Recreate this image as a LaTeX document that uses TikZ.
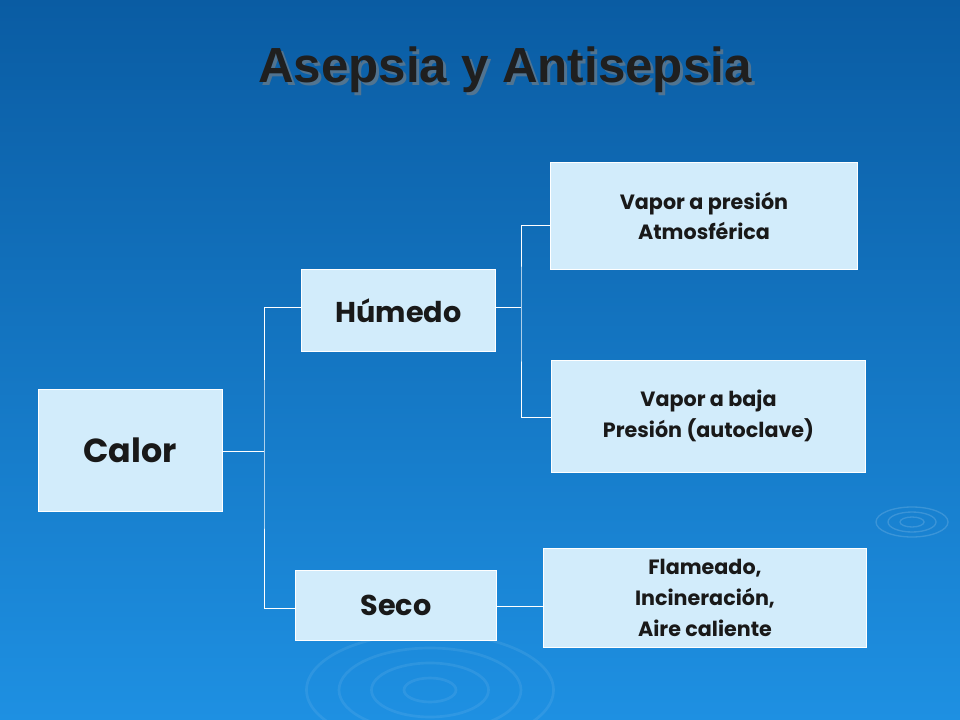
\documentclass[tikz,border=0pt]{standalone}
\usepackage{fontspec}
\setmainfont{Poppins}
\newfontfamily\titlefont{Liberation Sans}
\begin{document}
\begin{tikzpicture}[x=0.75pt,y=-0.75pt,
  box/.style={draw=white,line width=0.6pt,fill=boxc,align=center,text=black!90,font=\bfseries},
  conn/.style={draw=white,line width=0.6pt}]
\definecolor{boxc}{HTML}{D2ECFB}
\definecolor{topc}{HTML}{0A5CA3}
\definecolor{botc}{HTML}{1E90E2}
\shade[top color=topc,bottom color=botc] (0,0) rectangle (960,720);
\useasboundingbox (0,0) rectangle (960,720);
\foreach \r in {10,20,30}{\draw[white,opacity=0.15,line width=1pt] (912,522) ellipse ({\r*1.2} and {\r*0.5});}
\foreach \r in {20,45,70,95}{\draw[white,opacity=0.08,line width=2pt] (430,690) ellipse ({\r*1.3} and {\r*0.6});}
\node[font=\titlefont\bfseries\fontsize{37}{42}\selectfont,text=black!50,opacity=0.6] (shadow) at (508,73) {Asepsia y Antisepsia};
\node[font=\titlefont\bfseries\fontsize{37}{42}\selectfont,text=black!88] (title) at (505,70) {Asepsia y Antisepsia};
\node[box,minimum width=138pt,minimum height=91pt,font=\bfseries\fontsize{25}{28}\selectfont] (calor) at (130,450.5) {Calor};
\node[box,minimum width=145pt,minimum height=62pt,font=\bfseries\fontsize{21.5}{24}\selectfont] (hum) at (398.5,310.5) {Húmedo};
\node[box,minimum width=151pt,minimum height=52pt,font=\bfseries\fontsize{21.5}{24}\selectfont] (seco) at (396,605.5) {Seco};
\node[box,minimum width=230pt,minimum height=80pt,font=\bfseries\fontsize{15.5}{23}\selectfont] (v1) at (704,216) {Vapor a presión\\Atmosférica};
\node[box,minimum width=235pt,minimum height=84pt,font=\bfseries\fontsize{15.5}{23}\selectfont] (v2) at (708.5,416) {Vapor a baja\\Presión (autoclave)};
\node[box,minimum width=242pt,minimum height=74pt,font=\bfseries\fontsize{15.5}{23}\selectfont] (fl) at (705,598) {Flameado,\\Incineración,\\Aire caliente};
\coordinate (j1) at (264,451);
\coordinate (j2) at (521,307);
\draw[conn] (calor.east |- j1) -- (j1);
\draw[conn] (hum.west |- 0,307) -| (j1) |- (seco.west |- 0,608);
\draw[conn] (hum.east |- j2) -- (j2);
\draw[conn] (v1.west |- 0,225) -| (j2) |- (v2.west |- 0,417);
\draw[conn] (seco.east |- 0,606) -- (fl.west |- 0,606);
\end{tikzpicture}
\end{document}
